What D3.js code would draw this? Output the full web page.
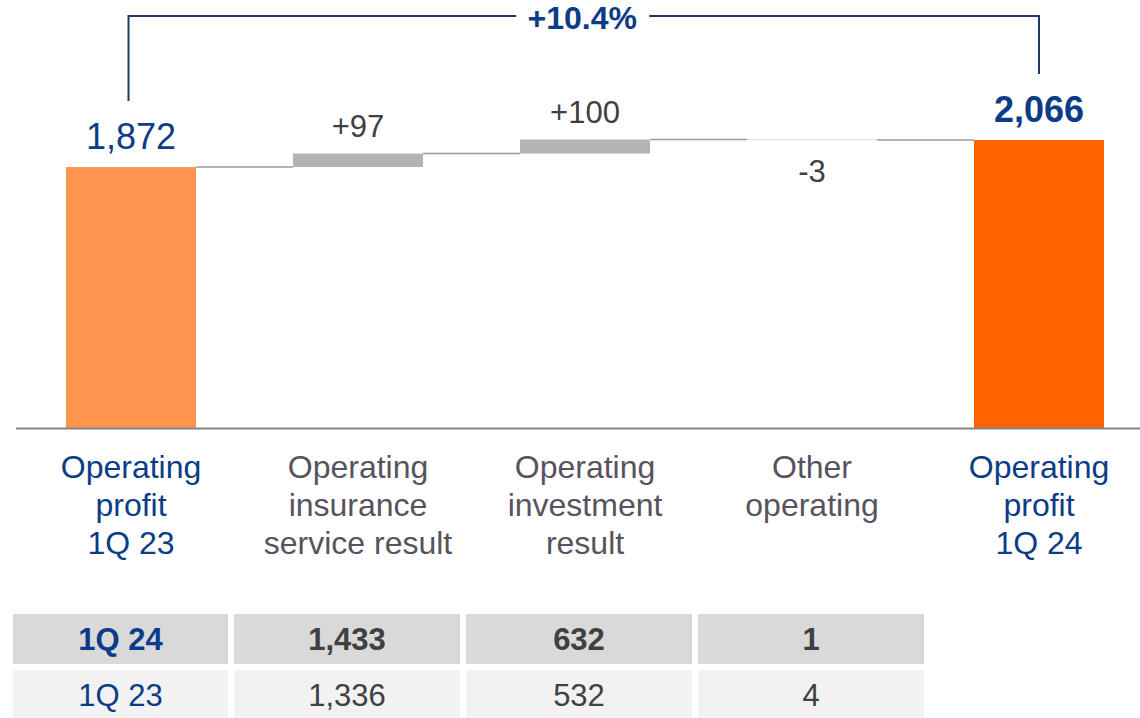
<!DOCTYPE html>
<html>
<head>
<meta charset="utf-8">
<script src="https://cdn.jsdelivr.net/npm/d3@7"></script>
<style>
  body { margin: 0; background: #fff; }
  text { font-family: Arial, "Liberation Sans", sans-serif; }
</style>
</head>
<body>
<script>
// data
var categories = [
  ["Operating", "profit", "1Q 23"],
  ["Operating", "insurance", "service result"],
  ["Operating", "investment", "result"],
  ["Other", "operating"],
  ["Operating", "profit", "1Q 24"]
];
var kinds = ["start", "delta", "delta", "delta", "end"];
var values = [1872, 97, 100, -3, 2066];
var valueLabels = ["1,872", "+97", "+100", "-3", "2,066"];
var growthLabel = "+10.4%";
var tableRows = ["1Q 24", "1Q 23"];
var tableValues = [
  ["1,433", "632", "1"],
  ["1,336", "532", "4"]
];

var W = 1140, H = 718;
var blue = "#0b3c87", navy = "#1f3864", grayText = "#57535e", darkText = "#404040";

var svg = d3.select("body").append("svg")
  .attr("width", W).attr("height", H);

var x = d3.scaleBand()
  .domain(d3.range(categories.length))
  .range([17.5, 1152.5])
  .paddingInner(0.4273)
  .paddingOuter(0.21365);

var y = d3.scaleLinear().domain([0, 2066]).range([428, 140]);

// running totals
var bars = [];
var run = 0;
values.forEach(function(v, i) {
  var lo, hi;
  if (kinds[i] == "delta") {
    lo = Math.min(run, run + v); hi = Math.max(run, run + v);
    run = run + v;
  } else {
    lo = 0; hi = v; run = v;
  }
  bars.push({i: i, lo: lo, hi: hi, end: run, v: v});
});

var fills = ["#ff944f", "#b3b3b3", "#b3b3b3", "#b3b3b3", "#ff6200"];

// connectors
for (var i = 0; i < bars.length - 1; i++) {
  svg.append("line")
    .attr("x1", x(i) + x.bandwidth()).attr("x2", x(i + 1))
    .attr("y1", y(bars[i].end)).attr("y2", y(bars[i].end))
    .attr("stroke", "#9a9a9a").attr("stroke-width", 1.5);
}

svg.selectAll("rect.bar")
  .data(bars)
  .enter().append("rect")
  .attr("class", "bar")
  .attr("x", function(d) { return x(d.i); })
  .attr("width", x.bandwidth())
  .attr("y", function(d) { return y(d.hi); })
  .attr("height", function(d) { return y(d.lo) - y(d.hi); })
  .attr("fill", function(d) { return fills[d.i]; });

// baseline
svg.append("line")
  .attr("x1", 16).attr("x2", W)
  .attr("y1", y(0) + 0.5).attr("y2", y(0) + 0.5)
  .attr("stroke", "#858585").attr("stroke-width", 2);

// value labels
svg.selectAll("text.val")
  .data(bars)
  .enter().append("text")
  .attr("class", "val")
  .attr("x", function(d) { return x(d.i) + x.bandwidth() / 2; })
  .attr("y", function(d) {
    if (d.v < 0) return y(d.lo) + 42;
    return y(d.hi) - (kinds[d.i] == "delta" ? 17 : 18);
  })
  .attr("text-anchor", "middle")
  .attr("font-size", function(d) { return kinds[d.i] == "delta" ? 31 : 36; })
  .attr("font-weight", function(d) { return kinds[d.i] == "end" ? "bold" : "normal"; })
  .attr("fill", function(d) { return kinds[d.i] == "delta" ? darkText : blue; })
  .text(function(d) { return valueLabels[d.i]; });

// growth bracket
var xl = x(0) + x.bandwidth() / 2 - 2.5, xr = x(4) + x.bandwidth() / 2;
var yTop = 16;
var leftEnd = y(bars[0].hi) - 18 - 26 - 22;
var rightEnd = y(bars[4].hi) - 18 - 26 - 22;
var gx = (xl + xr) / 2 - 1.5;
svg.append("path")
  .attr("d", "M" + xl + "," + leftEnd + "V" + yTop + "H" + (gx - 66))
  .attr("fill", "none").attr("stroke", navy).attr("stroke-width", 2);
svg.append("path")
  .attr("d", "M" + (gx + 67) + "," + yTop + "H" + xr + "V" + rightEnd)
  .attr("fill", "none").attr("stroke", navy).attr("stroke-width", 2);
svg.append("text")
  .attr("x", gx).attr("y", 29)
  .attr("text-anchor", "middle")
  .attr("font-size", 32).attr("font-weight", "bold")
  .attr("fill", blue)
  .text(growthLabel);

// category labels
categories.forEach(function(lines, i) {
  var t = svg.append("text")
    .attr("text-anchor", "middle")
    .attr("font-size", 32)
    .attr("fill", (kinds[i] == "delta") ? grayText : blue);
  lines.forEach(function(s, j) {
    t.append("tspan")
      .attr("x", x(i) + x.bandwidth() / 2)
      .attr("y", 478 + j * 38)
      .text(s);
  });
});

// table
var colX = [13, 234, 466, 698], colW = [215, 226, 226, 226];
var rowY = [614, 670], rowH = [50, 50];
var rowBg = ["#d9d9d9", "#f2f2f2"];
tableRows.forEach(function(r, ri) {
  var cells = [r].concat(tableValues[ri]);
  cells.forEach(function(c, ci) {
    svg.append("rect")
      .attr("x", colX[ci]).attr("y", rowY[ri])
      .attr("width", colW[ci]).attr("height", rowH[ri])
      .attr("fill", rowBg[ri]);
    svg.append("text")
      .attr("x", colX[ci] + colW[ci] / 2)
      .attr("y", rowY[ri] + 36)
      .attr("text-anchor", "middle")
      .attr("font-size", 31)
      .attr("font-weight", ri == 0 ? "bold" : "normal")
      .attr("fill", ci == 0 ? blue : darkText)
      .text(c);
  });
});
</script>
</body>
</html>
